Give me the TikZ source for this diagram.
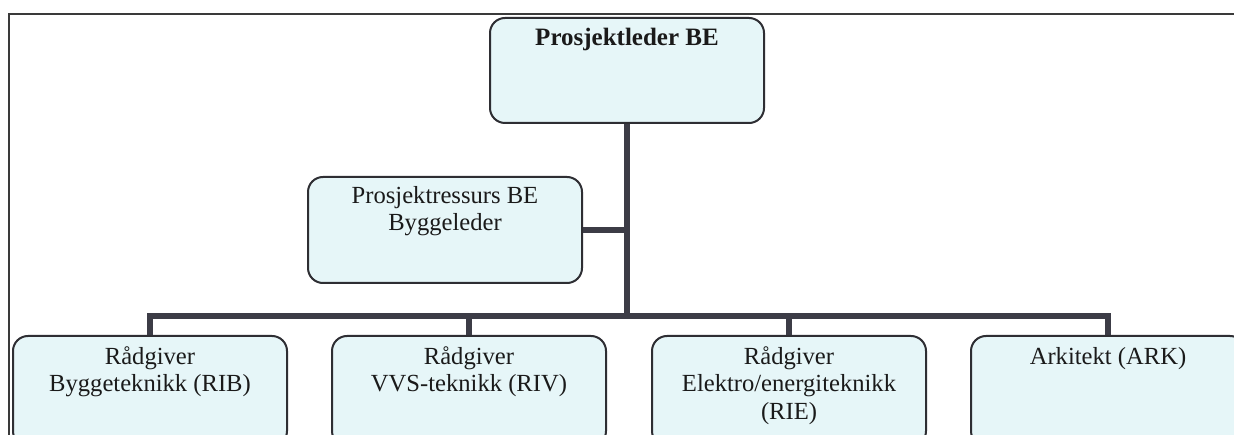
\documentclass[tikz,border=0pt]{standalone}
\usepackage{fontspec}
\setmainfont{Liberation Serif}
\usetikzlibrary{calc}
\definecolor{boxfill}{HTML}{E6F6F8}
\definecolor{boxline}{HTML}{2E2E33}
\definecolor{connline}{HTML}{3C3C46}
\definecolor{frameline}{HTML}{3A3A3A}
\definecolor{txt}{HTML}{1A1A1A}
\tikzset{
  orgbox/.style={draw=boxline, line width=2pt, fill=boxfill, rounded corners=15pt,
    minimum width=274pt, minimum height=106pt, inner sep=0pt, anchor=north west},
  boxtext/.style={anchor=north, inner sep=0pt, align=center, text=txt,
    font=\fontsize{24.6}{27.6}\selectfont},
  conn/.style={draw=connline, line width=6pt},
  framestyle/.style={draw=frameline, line width=1.5pt}
}
\begin{document}
\begin{tikzpicture}[x=1pt,y=-1pt]
\useasboundingbox (0,0) rectangle (1234,435);
\clip (0,0) rectangle (1234,435);
\fill[white] (0,0) rectangle (1234,435);
% frame
\draw[framestyle] (1234,14) -- (9,14) -- (9,440);
% boxes
\node[orgbox, minimum width=274pt, minimum height=105pt] (pl) at (489,17) {};
\node[orgbox, minimum height=106pt] (pr) at (307,176) {};
\node[orgbox, minimum height=110pt] (rib) at (12,335) {};
\node[orgbox, minimum height=110pt] (riv) at (331,335) {};
\node[orgbox, minimum height=110pt] (rie) at (651,335) {};
\node[orgbox, minimum height=110pt] (ark) at (970,335) {};
% texts
\node[boxtext, font=\fontsize{25}{27.6}\selectfont\bfseries] (tpl) at ($(pl.north)+(0,8.7)$) {\strut Prosjektleder BE};
\node[boxtext] (tpr) at ($(pr.north)+(0,7.7)$) {\strut Prosjektressurs BE\\Byggeleder};
\node[boxtext] (trib) at ($(rib.north)+(0,9.7)$) {\strut Rådgiver\\Byggeteknikk (RIB)};
\node[boxtext] (triv) at ($(riv.north)+(0,9.7)$) {\strut Rådgiver\\VVS-teknikk (RIV)};
\node[boxtext] (trie) at ($(rie.north)+(0,9.7)$) {\strut Rådgiver\\Elektro/energiteknikk\\(RIE)};
\node[boxtext] (tark) at ($(ark.north)+(0,9.7)$) {\strut Arkitekt (ARK)};
% connectors
\coordinate (bus) at (pl.south |- 0,316);
\draw[conn] (pl.south) -- (bus);
\draw[conn] (rib.north) |- (bus) -| (ark.north);
\draw[conn] (riv.north) -- (riv.north |- bus);
\draw[conn] (rie.north) -- (rie.north |- bus);
\draw[conn] (pr.east) -- (pr.east -| bus);
\end{tikzpicture}
\end{document}
